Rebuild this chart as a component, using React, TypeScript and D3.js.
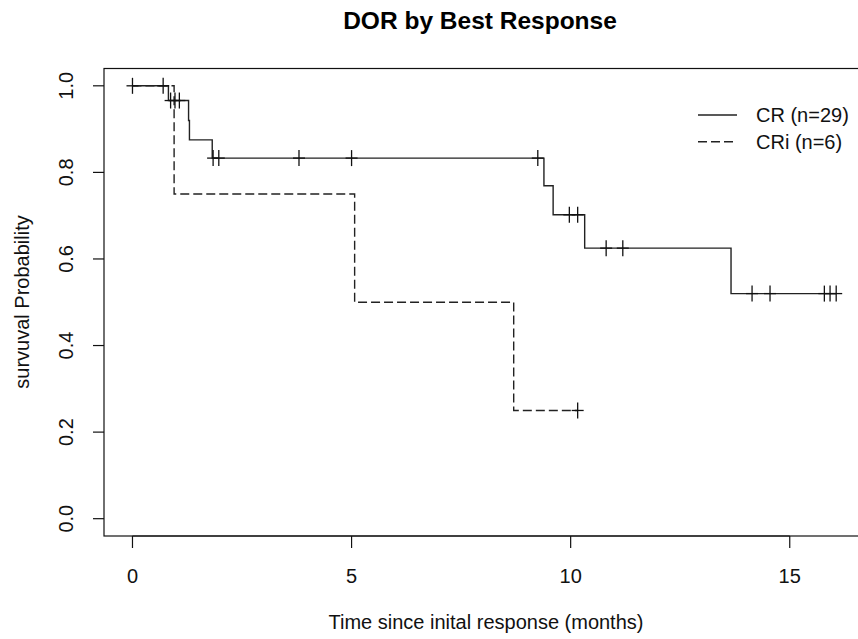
import React, { useEffect, useRef } from 'react';
import * as d3 from 'd3';

// CR arm (n=29): step times / survival after each step, censor times
const crTimes = [0, 0.82, 1.28, 1.3, 1.82, 9.39, 9.6, 10.32, 13.66];
const crSurv = [1.0, 0.966, 0.92, 0.875, 0.833, 0.769, 0.702, 0.625, 0.52];
const crCensor = [0, 0.7, 0.87, 0.97, 1.07, 1.84, 1.97, 3.8, 5.0, 9.25, 9.97, 10.16, 10.81, 11.19, 14.14, 14.55, 15.79, 15.92, 16.06];

// CRi arm (n=6)
const criTimes = [0, 0.95, 5.07, 8.7];
const criSurv = [1.0, 0.75, 0.5, 0.25];
const criCensor = [10.16];

const xTicks = [0, 5, 10, 15];
const yTicks = [0, 0.2, 0.4, 0.6, 0.8, 1.0];
const legendLabels = ['CR (n=29)', 'CRi (n=6)'];

const FONT = "'Liberation Sans', Arial, Helvetica, sans-serif";

const App = () => {
  const svgRef = useRef<SVGSVGElement | null>(null);

  useEffect(() => {
    const svg = d3.select(svgRef.current);
    svg.selectAll('*').remove();

    const left = 104, right = 873, top = 68.5, bottom = 536;

    const xScale = d3.scaleLinear().domain([-0.65, 16.9]).range([left, right]);
    const yScale = d3.scaleLinear().domain([-0.04, 1.04]).range([bottom, top]);

    // plot box
    svg.append('rect')
      .attr('x', left)
      .attr('y', top)
      .attr('width', right - left)
      .attr('height', bottom - top)
      .attr('fill', 'none')
      .attr('stroke', '#111')
      .attr('stroke-width', 1.2);

    // x axis
    const xAxis = svg.append('g').attr('transform', `translate(0,${bottom})`);
    xAxis.append('line')
      .attr('x1', xScale(0)).attr('x2', xScale(15))
      .attr('y1', 0).attr('y2', 0)
      .attr('stroke', '#111');
    xTicks.forEach(t => {
      xAxis.append('line')
        .attr('x1', xScale(t)).attr('x2', xScale(t))
        .attr('y1', 0).attr('y2', 12)
        .attr('stroke', '#111').attr('stroke-width', 1.2);
      xAxis.append('text')
        .attr('x', xScale(t))
        .attr('y', 47)
        .attr('text-anchor', 'middle')
        .style('font-family', FONT)
        .style('font-size', '20px')
        .attr('fill', '#111')
        .text(String(t));
    });

    // y axis
    yTicks.forEach(v => {
      svg.append('line')
        .attr('x1', left - 11).attr('x2', left)
        .attr('y1', yScale(v)).attr('y2', yScale(v))
        .attr('stroke', '#111').attr('stroke-width', 1.2);
      svg.append('text')
        .attr('transform', `translate(73,${yScale(v)}) rotate(-90)`)
        .attr('text-anchor', 'middle')
        .style('font-family', FONT)
        .style('font-size', '20px')
        .attr('fill', '#111')
        .text(v.toFixed(1));
    });

    // curves
    const line = d3.line<[number, number]>()
      .x(d => xScale(d[0]))
      .y(d => yScale(d[1]))
      .curve(d3.curveStepAfter);

    const drawArm = (times: number[], surv: number[], censor: number[], dash: string | null) => {
      const pts: [number, number][] = times.map((t, i) => [t, surv[i]]);
      const end = d3.max(censor) as number;
      pts.push([end, surv[surv.length - 1]]);
      const p = svg.append('path')
        .datum(pts)
        .attr('d', line)
        .attr('fill', 'none')
        .attr('stroke', '#222')
        .attr('stroke-width', 1.4);
      if (dash) p.attr('stroke-dasharray', dash);

      // censor marks (+)
      censor.forEach(c => {
        let s = surv[0];
        times.forEach((t, i) => { if (t <= c) s = surv[i]; });
        const cx = xScale(c), cy = yScale(s);
        svg.append('line')
          .attr('x1', cx - 6).attr('x2', cx + 6)
          .attr('y1', cy).attr('y2', cy)
          .attr('stroke', '#111').attr('stroke-width', 1.3);
        svg.append('line')
          .attr('x1', cx).attr('x2', cx)
          .attr('y1', cy - 8).attr('y2', cy + 8)
          .attr('stroke', '#111').attr('stroke-width', 1.3);
      });
    };

    drawArm(criTimes, criSurv, criCensor, '9,4');
    drawArm(crTimes, crSurv, crCensor, null);

    // legend
    const legendY = [115, 141.7];
    legendLabels.forEach((lab, i) => {
      const l = svg.append('line')
        .attr('x1', 698).attr('x2', 737)
        .attr('y1', legendY[i]).attr('y2', legendY[i])
        .attr('stroke', '#222')
        .attr('stroke-width', 1.4);
      if (i === 1) l.attr('stroke-dasharray', '9,4');
      svg.append('text')
        .attr('x', 756)
        .attr('y', legendY[i])
        .attr('dy', '0.35em')
        .style('font-family', FONT)
        .style('font-size', '20px')
        .attr('fill', '#111')
        .text(lab);
    });

    // titles
    svg.append('text')
      .attr('x', 480)
      .attr('y', 29)
      .attr('text-anchor', 'middle')
      .style('font-family', FONT)
      .style('font-size', '24.5px')
      .style('font-weight', 'bold')
      .attr('fill', '#000')
      .text('DOR by Best Response');

    svg.append('text')
      .attr('x', 486)
      .attr('y', 629)
      .attr('text-anchor', 'middle')
      .style('font-family', FONT)
      .style('font-size', '20px')
      .attr('fill', '#111')
      .text('Time since inital response (months)');

    svg.append('text')
      .attr('transform', 'translate(29,302) rotate(-90)')
      .attr('text-anchor', 'middle')
      .style('font-family', FONT)
      .style('font-size', '20px')
      .attr('fill', '#111')
      .text('survuval Probability');
  }, []);

  return (
    <svg
      ref={svgRef}
      width={858}
      height={639}
      style={{ position: 'absolute', left: 0, top: 0, background: '#fff' }}
    />
  );
};

export default App;
